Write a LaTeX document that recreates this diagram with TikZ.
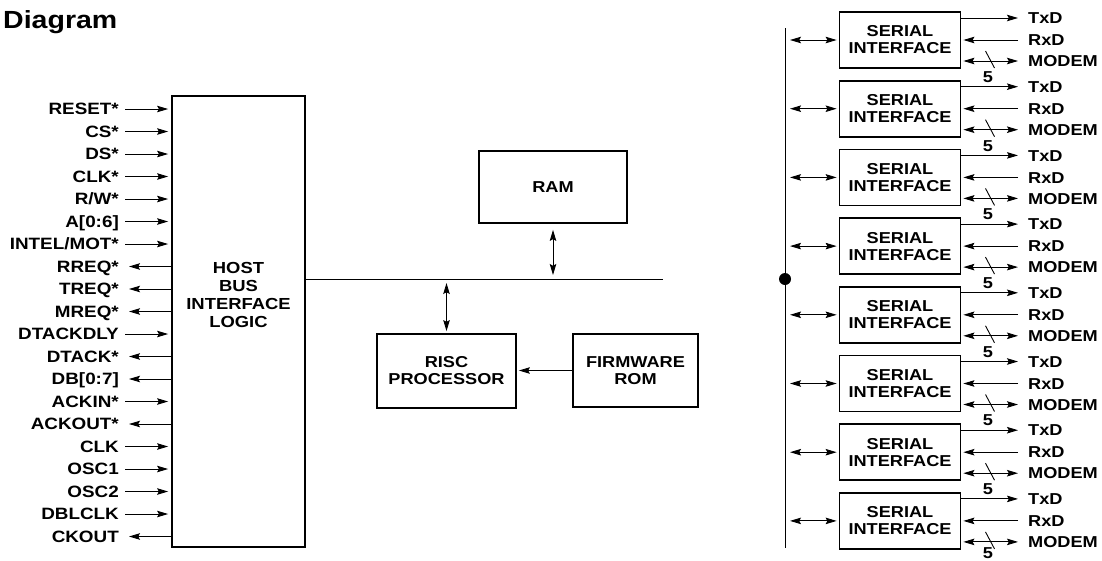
\documentclass[tikz,border=0pt]{standalone}
\usepackage{fontspec}
\setmainfont{Liberation Sans}[FakeStretch=1.15]
\usetikzlibrary{arrows.meta,calc}
\begin{document}
\begin{tikzpicture}[x=1pt,y=-1pt,
  every node/.style={font=\bfseries\fontsize{15.8}{17}\selectfont, inner sep=0pt},
  blk/.style={draw, line width=1.8pt, align=center},
  lbl/.style={anchor=east, text height=11.6pt, text depth=0pt, font=\bfseries\fontsize{16.4}{17}\selectfont},
  rl/.style={anchor=west, text height=11.3pt, text depth=0pt},
  sig/.style={line width=0.9pt},
  tip/.tip={Stealth[length=11pt,width=6.5pt,inset=1.8pt]},
  arr/.style={sig, -tip},
  darr/.style={sig, tip-tip},
]
\useasboundingbox (0,0) rectangle (1102,560);

% title
\node[font=\bfseries\fontsize{24.8}{28}\selectfont, anchor=base west] (title) at (3,28.3) {Diagram};

% host bus interface block
\node[blk, minimum width=133pt, minimum height=451pt] (host) at (238.5,321.5) {};
\node[align=center, font=\bfseries\fontsize{16}{18}\selectfont] (hostt) at (238.5,294.5) {HOST\\BUS\\INTERFACE\\LOGIC};

% left signals
\foreach \t/\d [count=\i from 0] in {RESET*/i, CS*/i, DS*/i, CLK*/i, {R/W*}/i, {A[0:6]}/i, {INTEL/MOT*}/i,
  RREQ*/o, TREQ*/o, MREQ*/o, DTACKDLY/i, DTACK*/o, {DB[0:7]}/o, ACKIN*/i, ACKOUT*/o,
  CLK/i, OSC1/i, OSC2/i, DBLCLK/i, CKOUT/o}{
  \node[lbl] (L\i) at (119,109+22.5*\i) {\t};
  \if\d i
    \draw[arr, shorten >=3pt] ($(L\i.east)+(6,0)$) -- (L\i.east -| host.west);
  \else
    \draw[arr] (L\i.east -| host.west) -- ($(L\i.east)+(10,0)$);
  \fi
}

% internal bus
\coordinate (busend) at (663,279);
\draw[sig] (host.east |- busend) -- (busend);

% RAM, RISC, firmware
\node[blk, minimum width=148pt, minimum height=72pt] (ram) at (553,187) {RAM};
\node[blk, minimum width=139pt, minimum height=74pt] (risc) at (446.5,371) {RISC\\PROCESSOR};
\node[blk, minimum width=125pt, minimum height=73pt] (fw) at (635.5,370.5) {FIRMWARE\\ROM};

\draw[darr, shorten <=6pt, shorten >=4pt] (ram.south) -- (ram.south |- busend);
\draw[darr, shorten <=4pt, shorten >=2pt] (risc.north |- busend) -- (risc.north);
\draw[arr, shorten >=2pt] (fw.west) -- (fw.west -| risc.east);

% serial bus
\coordinate (vtop) at (785,28);
\coordinate (vbot) at (785,548);
\draw[sig] (vtop) -- (vbot);
\node[circle, fill, minimum size=12pt] (dot) at (785,279) {};

\foreach \i in {0,...,7}{
  \pgfmathsetmacro\c{40+68.7*\i}
  \pgfmathsetmacro\f{\i<7 ? \c+37 : 553.5}
  \node[blk, minimum width=121pt, minimum height=56pt] (S\i) at (900,\c) {SERIAL\\INTERFACE};
  \node[rl] (T\i) at (1028,\c-22) {TxD};
  \node[rl] (R\i) at (1028,\c) {RxD};
  \node[rl] (M\i) at (1028,\c+21) {MODEM};
  \coordinate (B\i) at (790,\c);
  \draw[darr, shorten >=2pt] (B\i) -- (S\i.west);
  \draw[arr] (S\i.east |- T\i.west) -- ($(T\i.west)+(-10,0)$);
  \draw[arr, shorten >=2pt] ($(R\i.west)+(-10,0)$) -- (S\i.east |- R\i.west);
  \draw[darr, shorten <=2pt] (S\i.east |- M\i.west) -- ($(M\i.west)+(-10,0)$);
  \draw[sig] (985.5,\c+11) -- (994.5,\c+28);
  \node (F\i) at (988,\f) {5};
}
\end{tikzpicture}
\end{document}
